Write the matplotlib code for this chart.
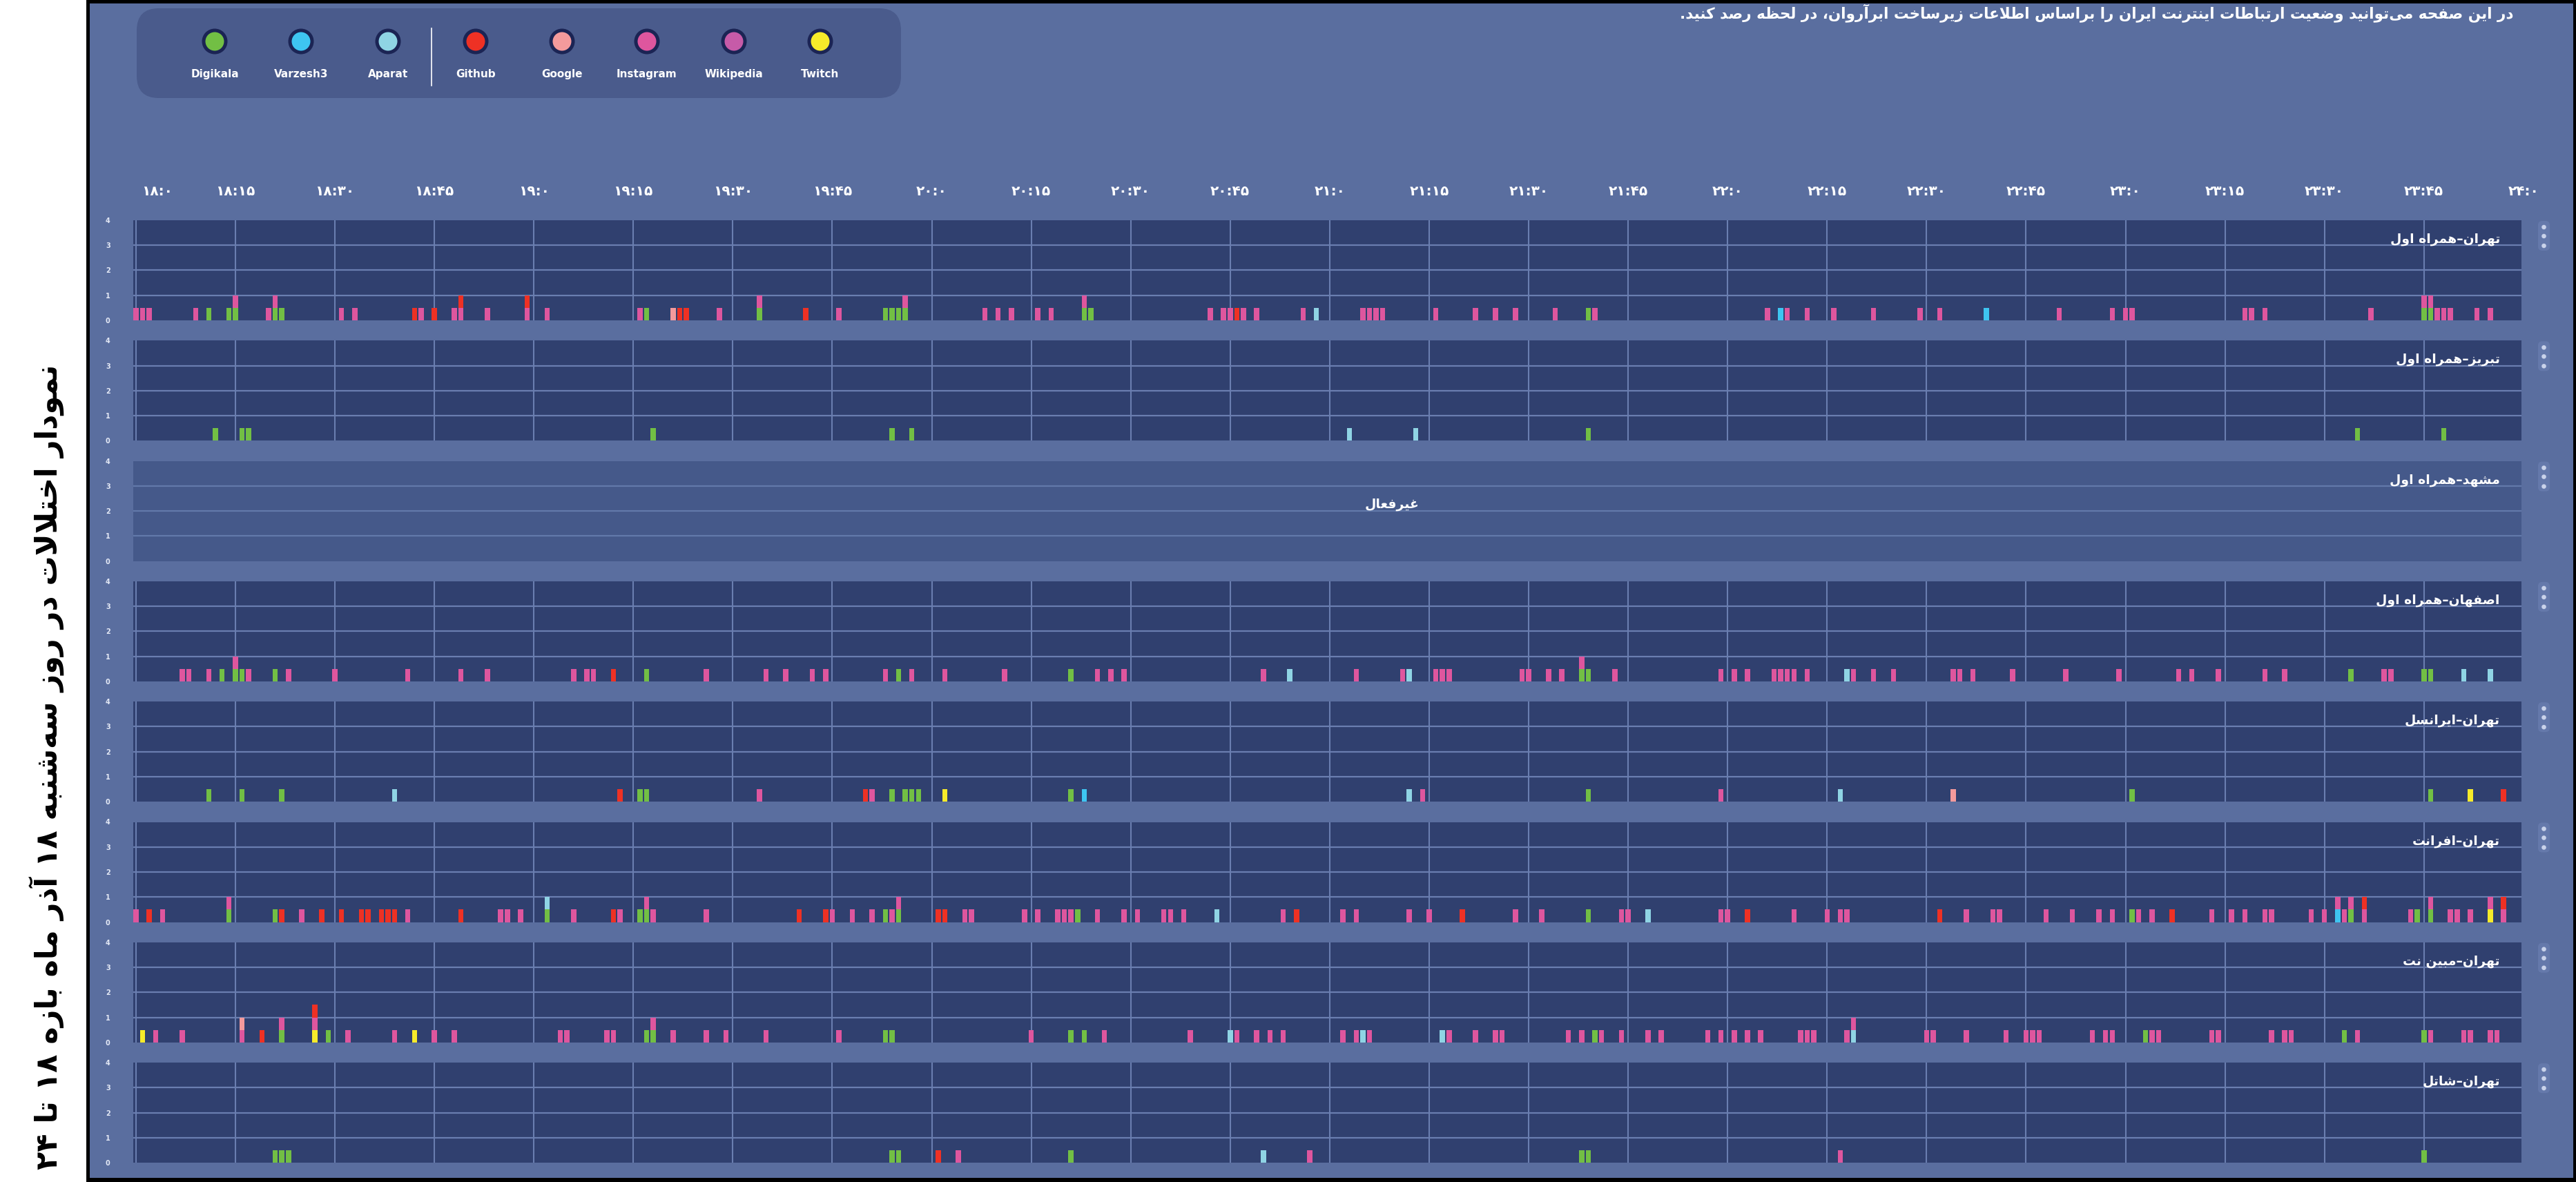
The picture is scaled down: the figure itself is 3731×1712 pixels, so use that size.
import re
import matplotlib
matplotlib.use('Agg')
import matplotlib.pyplot as plt
from matplotlib.patches import Rectangle, Circle, FancyBboxPatch

# ---- data -------------------------------------------------------------
SERVICES = ['Digikala', 'Varzesh3', 'Aparat', 'Github', 'Google', 'Instagram', 'Wikipedia', 'Twitch']
CODES = ['D', 'V', 'A', 'G', 'O', 'I', 'W', 'T']
COLORS = ['#72bf44', '#3ec5f1', '#8fd4e4', '#ee3124', '#f49a9c', '#de569e', '#c65ba8', '#f6eb2a']

TITLE = 'نمودار اختلالات در روز سه\u200cشنبه ۱۸ آذر ماه بازه ۱۸ تا ۲۴'
TOP_TEXT = 'در این صفحه می\u200cتوانید وضعیت ارتباطات اینترنت ایران را براساس اطلاعات زیرساخت ابرآروان، در لحظه رصد کنید.'
INACTIVE_TEXT = 'غیرفعال'

TIME_LABELS = ['۱۸:۰', '۱۸:۱۵', '۱۸:۳۰', '۱۸:۴۵', '۱۹:۰', '۱۹:۱۵', '۱۹:۳۰', '۱۹:۴۵',
               '۲۰:۰', '۲۰:۱۵', '۲۰:۳۰', '۲۰:۴۵', '۲۱:۰', '۲۱:۱۵', '۲۱:۳۰', '۲۱:۴۵',
               '۲۲:۰', '۲۲:۱۵', '۲۲:۳۰', '۲۲:۴۵', '۲۳:۰', '۲۳:۱۵', '۲۳:۳۰', '۲۳:۴۵', '۲۴:۰']
TIME_TICKS = list(range(0, 361, 15))  # minutes after 18:00

PANEL_NAMES = ['تهران–همراه اول', 'تبریز–همراه اول', 'مشهد–همراه اول', 'اصفهان–همراه اول',
               'تهران–ایرانسل', 'تهران–افرانت', 'تهران–مبین نت', 'تهران–شاتل']
PANEL_ACTIVE = [True, True, False, True, True, True, True, True]

EVENT_VALUE = 0.5  # each disruption adds half a unit, stacked per minute

# (minute after 18:00, service code), listed bottom to top when stacked
TEHRAN_MCI = [(0, 'I'), (1, 'I'), (2, 'I'), (9, 'I'), (11, 'D'), (14, 'D'), (15, 'D'), (15, 'I'),
              (20, 'I'), (21, 'D'), (21, 'I'), (22, 'D'), (31, 'I'), (33, 'I'), (42, 'G'), (43, 'I'),
              (45, 'G'), (48, 'I'), (49, 'I'), (49, 'G'), (53, 'I'), (59, 'I'), (59, 'G'), (62, 'I'),
              (76, 'I'), (77, 'D'), (81, 'O'), (82, 'G'), (83, 'G'), (88, 'I'), (94, 'D'), (94, 'I'),
              (101, 'G'), (106, 'I'), (113, 'D'), (114, 'D'), (115, 'D'), (116, 'D'), (116, 'I'),
              (128, 'I'), (130, 'I'), (132, 'I'), (136, 'I'), (138, 'I'), (143, 'D'), (143, 'I'),
              (144, 'D'), (162, 'I'), (164, 'I'), (165, 'I'), (166, 'G'), (167, 'I'), (169, 'I'),
              (176, 'I'), (178, 'A'), (185, 'I'), (186, 'I'), (187, 'I'), (188, 'I'), (196, 'I'),
              (202, 'I'), (205, 'I'), (208, 'I'), (214, 'I'), (219, 'D'), (220, 'I'), (246, 'I'),
              (248, 'V'), (249, 'I'), (252, 'I'), (256, 'I'), (262, 'I'), (269, 'I'), (272, 'I'),
              (279, 'V'), (290, 'I'), (298, 'I'), (300, 'I'), (301, 'I'), (318, 'I'), (319, 'I'),
              (321, 'I'), (337, 'I'), (345, 'D'), (345, 'I'), (346, 'D'), (346, 'I'), (347, 'I'),
              (348, 'I'), (349, 'I'), (353, 'I'), (355, 'I')]
TABRIZ_MCI = [(12, 'D'), (16, 'D'), (17, 'D'), (78, 'D'), (114, 'D'), (117, 'D'), (183, 'A'),
              (193, 'A'), (219, 'D'), (335, 'D'), (348, 'D')]
MASHHAD_MCI = []
ISFAHAN_MCI = [(7, 'I'), (8, 'I'), (11, 'I'), (13, 'D'), (15, 'D'), (15, 'I'), (16, 'D'), (17, 'I'),
               (21, 'D'), (23, 'I'), (30, 'I'), (41, 'I'), (49, 'I'), (53, 'I'), (66, 'I'), (68, 'I'),
               (69, 'I'), (72, 'G'), (77, 'D'), (86, 'I'), (95, 'I'), (98, 'I'), (102, 'I'), (104, 'I'),
               (113, 'I'), (115, 'D'), (117, 'I'), (122, 'I'), (131, 'I'), (141, 'D'), (145, 'I'),
               (147, 'I'), (149, 'I'), (170, 'I'), (174, 'A'), (184, 'I'), (191, 'I'), (192, 'A'),
               (196, 'I'), (197, 'I'), (198, 'I'), (209, 'I'), (210, 'I'), (213, 'I'), (215, 'I'),
               (218, 'D'), (218, 'I'), (219, 'D'), (223, 'I'), (239, 'I'), (241, 'I'), (243, 'I'),
               (247, 'I'), (248, 'I'), (249, 'I'), (250, 'I'), (252, 'I'), (258, 'A'), (259, 'I'),
               (262, 'I'), (265, 'I'), (274, 'I'), (275, 'I'), (277, 'I'), (283, 'I'), (291, 'I'),
               (299, 'I'), (308, 'I'), (310, 'I'), (314, 'I'), (321, 'I'), (324, 'I'), (334, 'D'),
               (339, 'I'), (340, 'I'), (345, 'D'), (346, 'D'), (351, 'A'), (355, 'A')]
TEHRAN_IRANCELL = [(11, 'D'), (16, 'D'), (22, 'D'), (39, 'A'), (73, 'G'), (76, 'D'), (77, 'D'),
                   (94, 'I'), (110, 'G'), (111, 'I'), (114, 'D'), (116, 'D'), (117, 'D'), (118, 'D'),
                   (122, 'T'), (141, 'D'), (143, 'V'), (192, 'A'), (194, 'I'), (219, 'D'), (239, 'I'),
                   (257, 'A'), (274, 'O'), (301, 'D'), (346, 'D'), (352, 'T'), (357, 'G')]
TEHRAN_AFRANET = [(0, 'I'), (2, 'G'), (4, 'I'), (14, 'D'), (14, 'I'), (21, 'D'), (22, 'G'), (25, 'I'),
                  (28, 'G'), (31, 'G'), (34, 'G'), (35, 'G'), (37, 'G'), (38, 'G'), (39, 'G'), (41, 'I'),
                  (49, 'G'), (55, 'I'), (56, 'I'), (58, 'I'), (62, 'D'), (62, 'A'), (66, 'I'), (72, 'G'),
                  (73, 'I'), (76, 'D'), (77, 'D'), (77, 'I'), (78, 'I'), (86, 'I'), (100, 'G'), (104, 'G'),
                  (105, 'I'), (108, 'I'), (111, 'I'), (113, 'D'), (114, 'I'), (115, 'D'), (115, 'I'),
                  (121, 'G'), (122, 'G'), (125, 'I'), (126, 'I'), (134, 'I'), (136, 'I'), (139, 'I'),
                  (140, 'I'), (141, 'I'), (142, 'D'), (145, 'I'), (149, 'I'), (151, 'I'), (155, 'I'),
                  (156, 'I'), (158, 'I'), (163, 'A'), (173, 'I'), (175, 'G'), (182, 'I'), (184, 'I'),
                  (192, 'I'), (195, 'I'), (200, 'G'), (208, 'I'), (212, 'I'), (219, 'D'), (224, 'I'),
                  (225, 'I'), (228, 'A'), (239, 'I'), (240, 'I'), (243, 'G'), (250, 'I'), (255, 'I'),
                  (257, 'I'), (258, 'I'), (272, 'G'), (276, 'I'), (280, 'I'), (281, 'I'), (288, 'I'),
                  (292, 'I'), (296, 'I'), (298, 'I'), (301, 'D'), (302, 'I'), (304, 'I'), (307, 'G'),
                  (313, 'I'), (316, 'I'), (318, 'I'), (321, 'I'), (322, 'I'), (328, 'I'), (330, 'I'),
                  (332, 'V'), (332, 'I'), (333, 'I'), (334, 'D'), (334, 'I'), (336, 'I'), (336, 'G'),
                  (343, 'I'), (344, 'D'), (346, 'D'), (346, 'I'), (349, 'I'), (350, 'I'), (352, 'I'),
                  (355, 'T'), (355, 'I'), (357, 'I'), (357, 'G')]
TEHRAN_MOBINNET = [(1, 'T'), (3, 'I'), (7, 'I'), (16, 'I'), (16, 'O'), (19, 'G'), (22, 'D'), (22, 'I'),
                   (27, 'T'), (27, 'I'), (27, 'G'), (29, 'D'), (32, 'I'), (39, 'I'), (42, 'T'), (45, 'I'),
                   (48, 'I'), (64, 'I'), (65, 'I'), (71, 'I'), (72, 'I'), (77, 'D'), (78, 'D'), (78, 'I'),
                   (81, 'I'), (86, 'I'), (89, 'I'), (95, 'I'), (106, 'I'), (113, 'D'), (114, 'D'),
                   (135, 'I'), (141, 'D'), (143, 'D'), (146, 'I'), (159, 'I'), (165, 'A'), (166, 'I'),
                   (169, 'I'), (171, 'I'), (173, 'I'), (182, 'I'), (184, 'I'), (185, 'A'), (186, 'I'),
                   (197, 'A'), (198, 'I'), (202, 'I'), (205, 'I'), (206, 'I'), (216, 'I'), (218, 'I'),
                   (220, 'D'), (221, 'I'), (224, 'I'), (228, 'I'), (230, 'I'), (237, 'I'), (239, 'I'),
                   (241, 'I'), (243, 'I'), (245, 'I'), (251, 'I'), (252, 'I'), (253, 'I'), (258, 'I'),
                   (259, 'A'), (259, 'I'), (270, 'I'), (271, 'I'), (276, 'I'), (282, 'I'), (285, 'I'),
                   (286, 'I'), (287, 'I'), (295, 'I'), (297, 'I'), (298, 'I'), (303, 'D'), (304, 'I'),
                   (305, 'I'), (313, 'I'), (314, 'I'), (322, 'I'), (324, 'I'), (325, 'I'), (333, 'D'),
                   (335, 'I'), (345, 'D'), (346, 'I'), (351, 'I'), (352, 'I'), (355, 'I'), (356, 'I')]
TEHRAN_SHATEL = [(21, 'D'), (22, 'D'), (23, 'D'), (114, 'D'), (115, 'D'), (121, 'G'), (124, 'I'),
                 (141, 'D'), (170, 'A'), (177, 'I'), (218, 'D'), (219, 'D'), (257, 'I'), (345, 'D')]

PANEL_EVENTS = [TEHRAN_MCI, TABRIZ_MCI, MASHHAD_MCI, ISFAHAN_MCI,
                TEHRAN_IRANCELL, TEHRAN_AFRANET, TEHRAN_MOBINNET, TEHRAN_SHATEL]

# ---- persian shaping (matplotlib has no arabic shaping / bidi) --------
_FORMS = {
    'آ': 'FE81 FE82', 'ا': 'FE8D FE8E', 'ب': 'FE8F FE90 FE91 FE92', 'پ': 'FB56 FB57 FB58 FB59',
    'ت': 'FE95 FE96 FE97 FE98', 'ث': 'FE99 FE9A FE9B FE9C', 'ج': 'FE9D FE9E FE9F FEA0',
    'چ': 'FB7A FB7B FB7C FB7D', 'ح': 'FEA1 FEA2 FEA3 FEA4', 'خ': 'FEA5 FEA6 FEA7 FEA8',
    'د': 'FEA9 FEAA', 'ذ': 'FEAB FEAC', 'ر': 'FEAD FEAE', 'ز': 'FEAF FEB0', 'ژ': 'FB8A FB8B',
    'س': 'FEB1 FEB2 FEB3 FEB4', 'ش': 'FEB5 FEB6 FEB7 FEB8', 'ص': 'FEB9 FEBA FEBB FEBC',
    'ض': 'FEBD FEBE FEBF FEC0', 'ط': 'FEC1 FEC2 FEC3 FEC4', 'ظ': 'FEC5 FEC6 FEC7 FEC8',
    'ع': 'FEC9 FECA FECB FECC', 'غ': 'FECD FECE FECF FED0', 'ف': 'FED1 FED2 FED3 FED4',
    'ق': 'FED5 FED6 FED7 FED8', 'ک': 'FB8E FB8F FB90 FB91', 'گ': 'FB92 FB93 FB94 FB95',
    'ل': 'FEDD FEDE FEDF FEE0', 'م': 'FEE1 FEE2 FEE3 FEE4', 'ن': 'FEE5 FEE6 FEE7 FEE8',
    'و': 'FEED FEEE', 'ه': 'FEE9 FEEA FEEB FEEC', 'ی': 'FBFC FBFD FBFE FBFF',
}
FORMS = {k: [chr(int(h, 16)) for h in v.split()] for k, v in _FORMS.items()}
LAM_ALEF = {'ا': ('\uFEFB', '\uFEFC'), 'آ': ('\uFEF5', '\uFEF6')}


def shape(text):
    out = []
    i, n = 0, len(text)
    while i < n:
        c = text[i]
        if c not in FORMS:
            if c != '\u200c':
                out.append(c)
            i += 1
            continue
        prev = text[i - 1] if i > 0 else ''
        joined_before = prev in FORMS and len(FORMS[prev]) == 4
        if c == 'ل' and i + 1 < n and text[i + 1] in LAM_ALEF:
            out.append(LAM_ALEF[text[i + 1]][1 if joined_before else 0])
            i += 2
            continue
        nxt = text[i + 1] if i + 1 < n else ''
        joins_after = len(FORMS[c]) == 4 and nxt in FORMS
        f = FORMS[c]
        if joined_before and joins_after:
            out.append(f[3])
        elif joined_before:
            out.append(f[1])
        elif joins_after:
            out.append(f[2])
        else:
            out.append(f[0])
        i += 1
    return ''.join(out)


def rtl(text):
    s = shape(text)
    runs = re.findall(r'[0-9\u06f0-\u06f9:]+|[^0-9\u06f0-\u06f9:]+', s)
    return ''.join(r if r[0] in '0123456789\u06f0\u06f1\u06f2\u06f3\u06f4\u06f5\u06f6\u06f7\u06f8\u06f9'
                   else r[::-1] for r in reversed(runs))


# ---- layout (pixels of the 3731x1712 picture) -------------------------
W, H = 3731, 1712
BG = '#5a6e9f'
PLOT_BG = '#30406f'
OFF_BG = '#45598a'
GRID = '#6a7eb0'
PLOT_L, PLOT_R = 193, 3652
TOP0, STEP, PH = 319, 174.3, 145

fig = plt.figure(figsize=(W / 100, H / 100), dpi=100, facecolor=BG)

bg = fig.add_axes([0, 0, 1, 1], zorder=-1)
bg.set_xlim(0, W)
bg.set_ylim(H, 0)
bg.axis('off')

# frame
bg.add_patch(Rectangle((0, 0), 125, H, fc='white', ec='none'))
bg.add_patch(Rectangle((125, 0), 5, H, fc='black', ec='none'))
bg.add_patch(Rectangle((125, 0), W, 5, fc='black', ec='none'))
bg.add_patch(Rectangle((3727, 0), 4, H, fc='black', ec='none'))
bg.add_patch(Rectangle((125, 1706), W, 6, fc='black', ec='none'))

bg.text(68, 1111, rtl(TITLE), rotation=90, ha='center', va='center',
        fontsize=31, fontweight='bold', color='black')
bg.text(3640, 19, rtl(TOP_TEXT), ha='right', va='center',
        fontsize=15.5, fontweight='bold', color='white')

# legend box
bg.add_patch(FancyBboxPatch((198, 12), 1107, 130, boxstyle='round,pad=0,rounding_size=32',
                            fc='#4a5b8c', ec='none'))
legend_x = [311, 436, 562, 689, 814, 937, 1063, 1188]
for lx, name, col in zip(legend_x, SERVICES, COLORS):
    bg.add_patch(Circle((lx, 60), 18.5, fc='#1b2454', ec='none'))
    bg.add_patch(Circle((lx, 60), 13.5, fc=col, ec='none'))
    bg.text(lx, 107, name, ha='center', va='center', fontsize=11, fontweight='bold', color='white')
bg.plot([625, 625], [41, 124], color='white', lw=1.2)

svc_color = dict(zip(CODES, COLORS))
axes = []
for k, (name, active, events) in enumerate(zip(PANEL_NAMES, PANEL_ACTIVE, PANEL_EVENTS)):
    top = TOP0 + k * STEP
    ax = fig.add_axes([PLOT_L / W, 1 - (top + PH) / H, (PLOT_R - PLOT_L) / W, PH / H])
    axes.append(ax)
    ax.set_facecolor(PLOT_BG if active else OFF_BG)
    ax.set_xlim(-0.4, 359.7)
    ax.set_ylim(0, 4)
    for s in ax.spines.values():
        s.set_visible(False)
    ax.set_xticks([])
    ax.set_yticks([0, 1, 2, 3, 4])
    ax.set_yticklabels(['0', '1', '2', '3', '4'])
    ax.tick_params(axis='y', length=0, pad=24, labelsize=7, labelcolor='#e4e9f6')
    for lbl in ax.get_yticklabels():
        lbl.set_fontweight('bold')
    for yv in (1, 2, 3):
        ax.axhline(yv, color=GRID if active else '#6279aa', lw=1.6, zorder=1)
    if active:
        for m in TIME_TICKS[:-1]:
            ax.axvline(m, color=GRID, lw=1.5, zorder=1)
    else:
        ax.text(0.527, 0.566, rtl(INACTIVE_TEXT), transform=ax.transAxes, ha='center', va='center',
                fontsize=13.5, fontweight='bold', color='white')

    level = {}
    for minute, code in events:
        base = level.get(minute, 0)
        ax.bar(minute, EVENT_VALUE, bottom=base, width=0.78, color=svc_color[code],
               linewidth=0, zorder=2)
        level[minute] = base + EVENT_VALUE

    ax.text(0.991, 0.81, rtl(name), transform=ax.transAxes, ha='right', va='center',
            fontsize=13.5, fontweight='bold', color='white', zorder=3)

    # three-dot menu
    bg.add_patch(FancyBboxPatch((3676, top + 1), 17, 43, boxstyle='round,pad=0,rounding_size=6',
                                fc='#6579ab', ec='none'))
    for dy in (10, 23, 37):
        bg.add_patch(Circle((3684.5, top + dy), 3.3, fc='#c9d2ea', ec='none'))

# time axis labels above the first panel
for i, (m, lbl) in enumerate(zip(TIME_TICKS, TIME_LABELS)):
    dx = 22 if i == 0 else 0
    axes[0].annotate(lbl, xy=(m, 1), xycoords=('data', 'axes fraction'), xytext=(dx, 30),
                     textcoords='offset points', ha='center', va='center', fontsize=14.5,
                     fontweight='bold', color='white', annotation_clip=False)

fig.savefig('out.png', dpi=100, facecolor=BG)
